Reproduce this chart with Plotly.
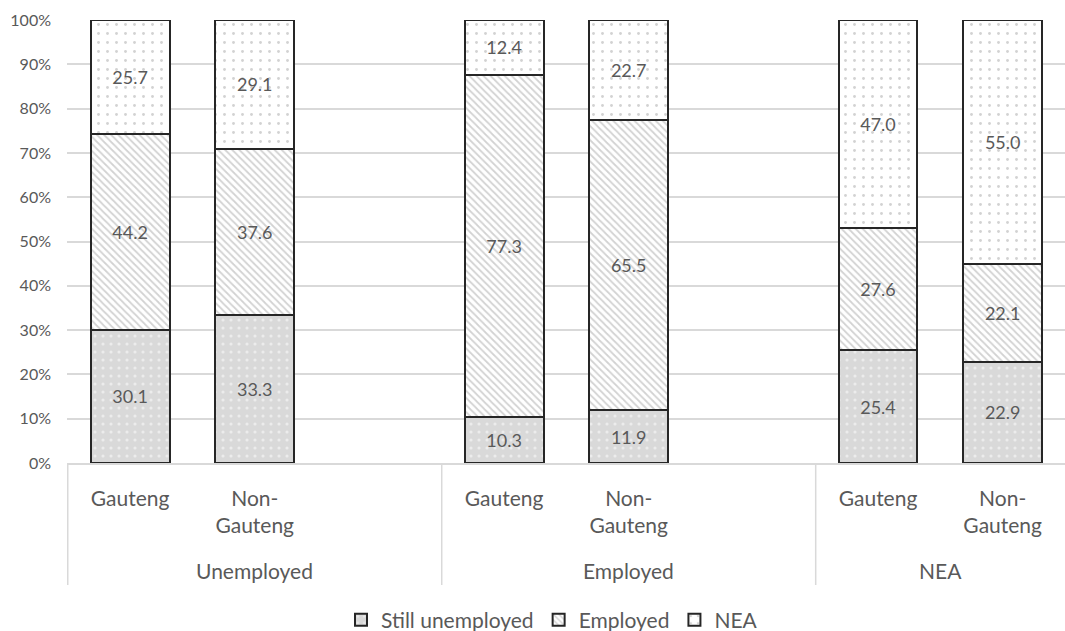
import plotly.graph_objects as go

groups = ["Unemployed", "Unemployed", "Unemployed", "Employed", "Employed", "Employed", "NEA", "NEA"]
regions = ["Gauteng", "Non-<br>Gauteng", "", "Gauteng", "Non-<br>Gauteng", "", "Gauteng", "Non-<br>Gauteng"]

still_unemployed = [30.1, 33.3, None, 10.3, 11.9, None, 25.4, 22.9]
employed = [44.2, 37.6, None, 77.3, 65.5, None, 27.6, 22.1]
nea = [25.7, 29.1, None, 12.4, 22.7, None, 47.0, 55.0]

y_ticks = [0, 10, 20, 30, 40, 50, 60, 70, 80, 90, 100]

FONT = "Lato"
GRAY = "#595959"
EDGE = "#262626"
GRID = "#d9d9d9"

# unique category ids (group|index) so blank spacer slots stay distinct
cats = [f"{g}|{i}" for i, g in enumerate(groups)]

def fmt(vals):
    return ["" if v is None else f"{v:.1f}" for v in vals]

series = [
    ("Still unemployed", still_unemployed,
     dict(shape=".", fgcolor="#ffffff", bgcolor="#d9d9d9", size=8, solidity=0.12, fillmode="overlay")),
    ("Employed", employed,
     dict(shape="\\", fgcolor="#a6a6a6", bgcolor="#ffffff", size=5, solidity=0.35, fillmode="overlay")),
    ("NEA", nea,
     dict(shape=".", fgcolor="#a6a6a6", bgcolor="#ffffff", size=9, solidity=0.08, fillmode="overlay")),
]

fig = go.Figure()
for name, vals, pat in series:
    fig.add_trace(go.Bar(
        name=name,
        x=cats,
        y=vals,
        text=fmt(vals),
        texttemplate="%{text}",
        textposition="inside",
        insidetextanchor="middle",
        textangle=0,
        textfont=dict(family=FONT, size=18, color=GRAY),
        marker=dict(color=pat["bgcolor"], pattern=pat, line=dict(color=EDGE, width=2)),
        hoverinfo="skip",
    ))

# plot-area geometry (pixels) used to place group labels and dividers
H, W = 631, 1065
M_T, M_B = 20, 168
plot_h = H - M_T - M_B

def py(px):  # page pixel y -> paper y
    return (H - M_B - px) / plot_h

# group labels and dividers
group_order = []
for g in groups:
    if g not in group_order:
        group_order.append(g)
shapes, annotations = [], []
for g in group_order:
    idx = [i for i, gg in enumerate(groups) if gg == g]
    start, end = idx[0] - 0.5, idx[-1] + 0.5
    annotations.append(dict(x=(start + end) / 2, xref="x", y=py(570), yref="paper",
                            text=g, showarrow=False, yanchor="middle",
                            font=dict(family=FONT, size=21, color=GRAY)))
    shapes.append(dict(type="line", xref="x", yref="paper", x0=start, x1=start,
                       y0=0, y1=py(585), line=dict(color=GRID, width=1.5)))

fig.update_layout(
    barmode="stack",
    barnorm="percent",
    bargap=0.367,
    width=W, height=H,
    margin=dict(l=67, r=0, t=M_T, b=M_B),
    paper_bgcolor="white",
    plot_bgcolor="white",
    font=dict(family=FONT, color=GRAY, size=21),
    uniformtext=dict(minsize=18, mode="show"),
    showlegend=True,
    legend=dict(orientation="h", x=0.486, xanchor="center", yref="container",
                y=(H - 620) / H, yanchor="middle",
                font=dict(family=FONT, size=21, color=GRAY),
                traceorder="normal", itemwidth=30),
    yaxis=dict(range=[0, 100], tickvals=y_ticks, ticktext=[f"{v}%" for v in y_ticks],
               showgrid=True, gridcolor=GRID, gridwidth=1.5, zeroline=False, showline=False,
               tickfont=dict(family=FONT, size=16, color=GRAY), ticks="",
               ticklabelstandoff=15, automargin=False),
    xaxis=dict(type="category", categoryorder="array", categoryarray=cats,
               tickvals=cats, ticktext=regions,
               showline=True, linecolor=GRID, linewidth=1.5,
               tickfont=dict(family=FONT, size=21, color=GRAY), ticks="",
               ticklabelstandoff=16, showgrid=False, automargin=False),
    shapes=shapes,
    annotations=annotations,
)

fig.write_html("out.html")
